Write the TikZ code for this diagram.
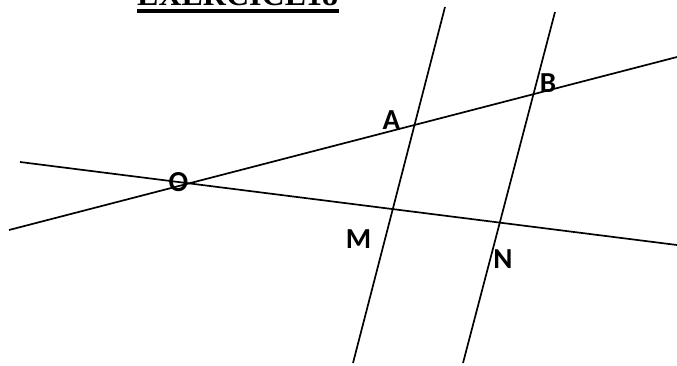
\documentclass[tikz,border=0pt]{standalone}
\usepackage{fontspec}
\setmainfont{Liberation Serif}
\newfontfamily\labfont{Carlito}
\begin{document}
\begin{tikzpicture}[x=1pt,y=-1pt,
  geoline/.style={line width=1.7pt,black},
  ptlabel/.style={font=\labfont\bfseries\fontsize{29}{29}\selectfont,inner sep=0pt},
  titlestyle/.style={font=\bfseries\fontsize{32}{32}\selectfont,inner sep=0pt,anchor=base west}]
\useasboundingbox (0,0) rectangle (677,365);
% line ends
\coordinate (l1a) at (9,230);
\coordinate (l1b) at (677,57);
\coordinate (l2a) at (20,162);
\coordinate (l2b) at (677,245);
\coordinate (l3a) at (445,7);
\coordinate (l3b) at (353,363);
\coordinate (l4a) at (555,12);
\coordinate (l4b) at (463,363);
\draw[geoline] (l1a) -- (l1b);
\draw[geoline] (l2a) -- (l2b);
\draw[geoline] (l3a) -- (l3b);
\draw[geoline] (l4a) -- (l4b);
% labels
\node[ptlabel] (O) at (178.5,182) {O};
\node[ptlabel] (A) at (391.5,120.5) {A};
\node[ptlabel] (B) at (548,83.5) {B};
\node[ptlabel] (M) at (358.5,239) {M};
\node[ptlabel] (N) at (503,259) {N};
% title
\node[titlestyle] (title) at (137,5) {EXERCICE18};
\draw[line width=3.5pt] (title.base west) ++(0,6.2) -- (339,11.2);
\end{tikzpicture}
\end{document}
